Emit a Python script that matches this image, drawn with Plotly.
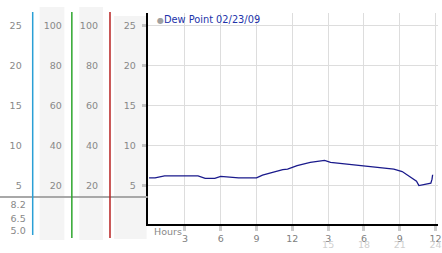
import plotly.graph_objects as go

W, H = 442, 253

# ---- data ----
hours = [0, 0.5, 1.3, 2, 3, 4.1, 4.7, 5.5, 6, 7, 7.5, 9, 9.5, 10.5, 11.2, 11.6,
         12.4, 13.5, 14.25, 14.7, 15.2, 16.6, 18, 19.9, 20.5, 21.2, 21.8, 22.4,
         22.6, 23.25, 23.6, 23.7, 23.75]
dew_point = [6.0, 6.0, 6.25, 6.25, 6.25, 6.25, 5.95, 5.95, 6.2, 6.05, 6.0, 6.0,
             6.35, 6.75, 7.05, 7.1, 7.55, 7.95, 8.1, 8.2, 7.95, 7.75, 7.5, 7.25,
             7.1, 6.8, 6.25, 5.6, 5.05, 5.2, 5.35, 5.85, 6.4]
series_name = "Dew Point 02/23/09"

y_ticks = [5, 10, 15, 20, 25]
pct_ticks = [20, 40, 60, 80, 100]
x_ticks = [3, 6, 9, 12, 15, 18, 21, 24]
x_ticktext = ["3", "6", "9", "12", "3", "6", "9", "12"]
x2_ticks = [15, 18, 21, 24]
x2_ticktext = ["15", "18", "21", "24"]
low_ticks = [5.0, 6.5, 8.2]
low_ticktext = ["5.0", "6.5", "8.2"]

y_range = [0.25, 26.6]
x_range = [-0.12, 24.2]

FONT = "DejaVu Sans"
GRAY = "#888888"


def px(x):
    return x / W


def py(y):
    return 1 - y / H


fig = go.Figure()
fig.add_trace(go.Scatter(x=hours, y=dew_point, mode="lines",
                         line=dict(color="#1a1a8c", width=1.3),
                         showlegend=False, hoverinfo="skip"))
# empty traces so the extra axes are drawn
for xa, ya in [("x2", "y2"), ("x2", "y3"), ("x2", "y4"), ("x2", "y5"), ("x2", "y")]:
    fig.add_trace(go.Scatter(x=[], y=[], xaxis=xa, yaxis=ya, showlegend=False))

tickfont = dict(family=FONT, size=9.5, color=GRAY)
main_dom = [py(224), py(13)]

fig.update_layout(
    width=W, height=H, margin=dict(l=0, r=0, t=0, b=0),
    paper_bgcolor="white", plot_bgcolor="rgba(0,0,0,0)", showlegend=False,
    xaxis=dict(domain=[px(149), 1], anchor="y", range=x_range, tickvals=x_ticks,
               ticktext=x_ticktext, showgrid=True, gridcolor="#dddddd",
               gridwidth=1, zeroline=False, showline=True, linecolor="black",
               linewidth=2, ticks="outside", ticklen=5, tickwidth=3,
               tickcolor="#cccccc", tickfont=dict(family=FONT, size=9.5, color="#808080"),
               ticklabelstandoff=0, ticklabeloverflow="allow"),
    xaxis2=dict(overlaying="x", anchor="free", position=main_dom[0],
                range=x_range, tickvals=x2_ticks, ticktext=x2_ticktext,
                showgrid=False, zeroline=False, showline=False, ticks="",
                tickfont=dict(family=FONT, size=9.5, color="#d0d0d0"),
                ticklabelstandoff=13, ticklabeloverflow="allow"),
    yaxis=dict(domain=main_dom, anchor="x", range=y_range, tickvals=y_ticks,
               showgrid=True, gridcolor="#dddddd", zeroline=False,
               showline=True, linecolor="black", linewidth=2,
               ticks="outside", ticklen=4, tickwidth=3, tickcolor="#c4c4c4",
               tickfont=tickfont, ticklabelstandoff=4),
    yaxis2=dict(overlaying="y", anchor="free", position=px(33), range=y_range,
                tickvals=y_ticks, showgrid=False, zeroline=False,
                showline=False, ticks="", tickfont=tickfont,
                ticklabelstandoff=11),
    yaxis3=dict(overlaying="y", anchor="free", position=px(72.5),
                range=[v * 4 for v in y_range], tickvals=pct_ticks,
                showgrid=False, zeroline=False, showline=False, ticks="",
                tickfont=tickfont, ticklabelstandoff=10),
    yaxis4=dict(overlaying="y", anchor="free", position=px(111),
                range=[v * 4 for v in y_range], tickvals=pct_ticks,
                showgrid=False, zeroline=False, showline=False, ticks="",
                tickfont=tickfont, ticklabelstandoff=12),
    yaxis5=dict(domain=[py(240), py(197)], anchor="free", position=px(33),
                range=[3.94, 9.06], tickvals=low_ticks, ticktext=low_ticktext,
                showgrid=False, zeroline=False, showline=False, ticks="",
                tickfont=tickfont, ticklabelstandoff=7),
)

shapes = []
# light column backgrounds
for x0, x1, y0, y1 in [(40, 65, 7, 240), (80, 104, 7, 240), (115, 148, 16, 239)]:
    shapes.append(dict(type="rect", xref="paper", yref="paper", x0=px(x0), x1=px(x1),
                       y0=py(y1), y1=py(y0), fillcolor="#f4f4f4", line_width=0,
                       layer="below"))
# horizontal separator
shapes.append(dict(type="line", xref="paper", yref="paper", x0=0, x1=px(149),
                   y0=py(197), y1=py(197), line=dict(color="#a8a8a8", width=2)))
# coloured column lines
for x, y1, c in [(33, 235, "#2a9fd6"), (72.5, 238, "#2ea62e"), (111, 238, "#b82222")]:
    shapes.append(dict(type="line", xref="paper", yref="paper", x0=px(x), x1=px(x),
                       y0=py(y1), y1=py(12), line=dict(color=c, width=1.5)))
fig.update_layout(shapes=shapes)

fig.add_annotation(xref="paper", yref="paper", x=px(156), y=py(19.5),
                   xanchor="left", yanchor="middle", showarrow=False,
                   text="<span style='color:#a0a0a0;font-size:8px'>●</span>" + series_name,
                   font=dict(family=FONT, size=9.8, color="#2233aa"))
fig.add_annotation(xref="paper", yref="paper", x=px(153), y=py(231),
                   xanchor="left", yanchor="middle", showarrow=False,
                   text="Hours", font=dict(family=FONT, size=9.5, color=GRAY))

fig.write_html("out.html")
